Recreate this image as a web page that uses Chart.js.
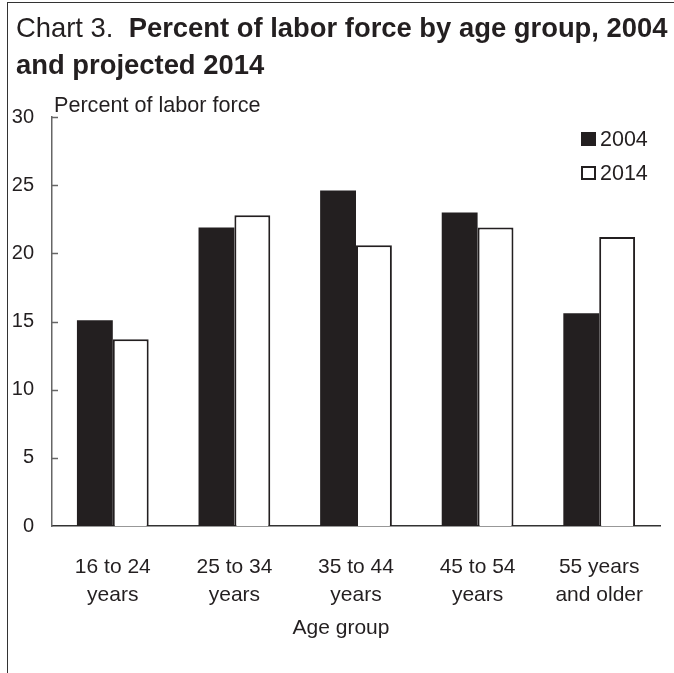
<!DOCTYPE html>
<html>
<head>
<meta charset="utf-8">
<script src="https://cdn.jsdelivr.net/npm/chart.js@4.4.1/dist/chart.umd.min.js"></script>
<style>
  html, body { margin: 0; padding: 0; background: #fff; }
  #wrap { position: relative; width: 674px; height: 673px; overflow: hidden; }
  #frame { position: absolute; left: 7px; top: 2px; right: -2px; bottom: -2px;
           border-left: 1px solid #333; border-top: 1px solid #333; }
  #title { position: absolute; left: 16px; top: 9px; font-family: "Liberation Sans", Arial, sans-serif;
           font-size: 27.4px; line-height: 37px; color: #231f20; white-space: nowrap; }
  #title b { font-weight: bold; }
  #chartBox { position: absolute; left: 0; top: 0; width: 674px; height: 673px; }
</style>
</head>
<body>
<div id="wrap">
  <div id="frame"></div>
  <div id="chartBox"><canvas id="laborChart" width="674" height="673"></canvas></div>
  <div id="title">Chart 3.&nbsp; <b>Percent of labor force by age group, 2004</b><br><b>and projected 2014</b></div>
</div>
<script>
const categories = [["16 to 24", "years"], ["25 to 34", "years"], ["35 to 44", "years"], ["45 to 54", "years"], ["55 years", "and older"]];
const values2004 = [15.1, 21.9, 24.6, 23.0, 15.6];
const values2014 = [13.7, 22.8, 20.6, 21.9, 21.2];
const seriesLabels = ["2004", "2014"];
const yTicks = [0, 5, 10, 15, 20, 25, 30];

const ink = "#231f20";
const fontFamily = '"Liberation Sans", Arial, sans-serif';

// short tick marks drawn inside the plot, plus the axis captions
const innerTicks = {
  id: "innerTicks",
  afterDraw(chart) {
    const y = chart.scales.y;
    const area = chart.chartArea;
    const ctx = chart.ctx;
    ctx.save();
    ctx.strokeStyle = "#666";
    ctx.lineWidth = 1.5;
    y.ticks.forEach(t => {
      const py = Math.round(y.getPixelForValue(t.value)) + 0.5;
      if (t.value === 0) return;
      ctx.beginPath();
      ctx.moveTo(y.right, py);
      ctx.lineTo(y.right + 6, py);
      ctx.stroke();
    });
    ctx.fillStyle = ink;
    ctx.font = "21.6px " + fontFamily;
    ctx.textBaseline = "alphabetic";
    ctx.textAlign = "left";
    ctx.fillText("Percent of labor force", area.left + 2, area.top - 5);
    ctx.textAlign = "center";
    ctx.textBaseline = "middle";
    ctx.font = "21px " + fontFamily;
    ctx.fillText("Age group", (area.left + area.right) / 2 - 15, area.bottom + 102);
    ctx.restore();
  }
};

// legend boxes stacked in the top right corner
const boxLegend = {
  id: "boxLegend",
  afterDraw(chart) {
    const ctx = chart.ctx;
    const x = 581, y0 = 139, gap = 34;
    ctx.save();
    ctx.font = "21.5px " + fontFamily;
    ctx.textBaseline = "middle";
    ctx.textAlign = "left";
    chart.data.datasets.forEach((ds, i) => {
      const cy = y0 + i * gap;
      if (i === 0) {
        ctx.fillStyle = ds.backgroundColor;
        ctx.fillRect(x, cy - 7, 15, 14);
      } else {
        ctx.strokeStyle = ds.borderColor;
        ctx.lineWidth = 2;
        ctx.strokeRect(x + 1, cy - 6, 13, 12);
      }
      ctx.fillStyle = ink;
      ctx.fillText(ds.label, x + 19, cy + 1);
    });
    ctx.restore();
  }
};

document.addEventListener("DOMContentLoaded", function() {
  const ctx = document.getElementById("laborChart").getContext("2d");
  new Chart(ctx, {
    type: "bar",
    data: {
      labels: categories,
      datasets: [
        {
          label: seriesLabels[0],
          data: values2004,
          backgroundColor: ink,
          borderColor: ink,
          borderWidth: 0
        },
        {
          label: seriesLabels[1],
          data: values2014,
          backgroundColor: "#ffffff",
          borderColor: ink,
          borderWidth: 2
        }
      ]
    },
    options: {
      responsive: false,
      animation: false,
      layout: { padding: { left: 0, top: 117, right: 14, bottom: 0 } },
      datasets: { bar: { categoryPercentage: 0.59, barPercentage: 1.0 } },
      plugins: {
        legend: { display: false },
        tooltip: { enabled: false }
      },
      scales: {
        x: {
          grid: { display: false },
          border: { display: true, color: "#333", width: 1.5 },
          ticks: {
            color: ink,
            padding: 20,
            maxRotation: 0,
            font: { family: fontFamily, size: 21, lineHeight: 1.3 }
          },
          afterFit(scale) { scale.height = 147; }
        },
        y: {
          min: 0,
          max: 30,
          afterBuildTicks(scale) { scale.ticks = yTicks.map(v => ({ value: v })); },
          grid: { display: false, drawTicks: false },
          border: { display: true, color: "#666", width: 1.5 },
          ticks: {
            color: ink,
            padding: 18,
            font: { family: fontFamily, size: 20 }
          },
          afterFit(scale) { scale.width = 52; }
        }
      }
    },
    plugins: [innerTicks, boxLegend]
  });
});
</script>
</body>
</html>
